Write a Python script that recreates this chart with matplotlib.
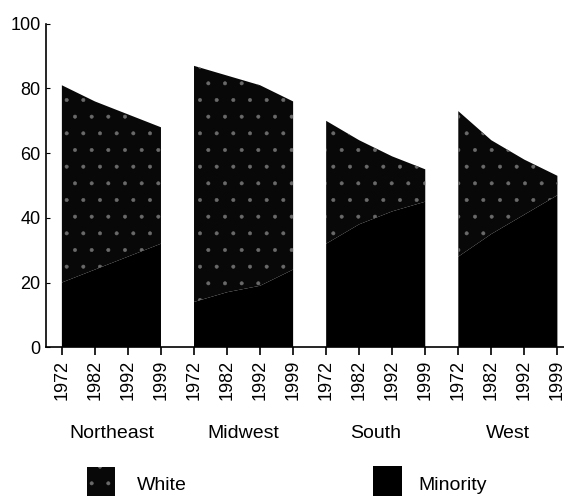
import numpy as np
import matplotlib.pyplot as plt
from matplotlib.patches import Rectangle
from matplotlib.transforms import blended_transform_factory

plt.rcParams['font.family'] = ['Liberation Sans', 'DejaVu Sans']
plt.rcParams['hatch.linewidth'] = 0.4

regions = ['Northeast', 'Midwest', 'South', 'West']
years = ['1972', '1982', '1992', '1999']

# percent of enrollment
minority = {
    'Northeast': [20, 24, 28, 32],
    'Midwest': [14, 17, 19, 24],
    'South': [32, 38, 42, 45],
    'West': [28, 35, 41, 47],
}
total = {
    'Northeast': [81, 76, 72, 68],
    'Midwest': [87, 84, 81, 76],
    'South': [70, 64, 59, 55],
    'West': [73, 64, 58, 53],
}

WHITE_FACE = '#080808'
WHITE_HATCH = '#6a6a6a'


def main():
    fig = plt.figure(figsize=(5.64, 4.96), dpi=100)
    ax = fig.add_axes([0.0816, 0.300, 0.9184, 0.652])
    trans = blended_transform_factory(ax.transData, fig.transFigure)

    ticks = []
    labels = []
    for i, reg in enumerate(regions):
        x = np.arange(len(years)) + i * len(years)
        lo = np.array(minority[reg])
        hi = np.array(total[reg])
        ax.fill_between(x, 0, lo, facecolor='black', edgecolor='none', lw=0)
        ax.fill_between(x, lo, hi, facecolor=WHITE_FACE, edgecolor=WHITE_HATCH,
                        hatch='.', lw=0)
        ticks += list(x)
        labels += years
        ax.text(x.mean(), 0.127, reg, transform=trans,
                ha='center', va='center', fontsize=14)

    ax.set_xlim(-0.48, 15.2)
    ax.set_ylim(0, 100)
    ax.set_xticks(ticks)
    ax.set_xticklabels(labels, rotation=90, fontsize=13)
    ax.set_yticks([0, 20, 40, 60, 80, 100])
    ax.tick_params(axis='y', labelsize=13, direction='in', length=3, pad=4)
    ax.tick_params(axis='x', direction='out', length=6, width=1.2, pad=3)
    for s in ['top', 'right']:
        ax.spines[s].set_visible(False)
    ax.spines['left'].set_linewidth(1.2)
    ax.spines['bottom'].set_linewidth(1.2)

    # legend drawn by hand at the bottom
    fig.patches.append(Rectangle((87 / 564, -0.01), 28 / 564, 0.0685,
                                 transform=fig.transFigure, facecolor=WHITE_FACE,
                                 edgecolor=WHITE_HATCH, hatch='.', lw=0))
    fig.text(137 / 564, 0.022, 'White', fontsize=14, va='center')
    fig.patches.append(Rectangle((373 / 564, -0.01), 29 / 564, 0.07,
                                 transform=fig.transFigure, facecolor='black',
                                 lw=0))
    fig.text(418 / 564, 0.022, 'Minority', fontsize=14, va='center')

    fig.savefig('out.png', dpi=100)


if __name__ == '__main__':
    main()
